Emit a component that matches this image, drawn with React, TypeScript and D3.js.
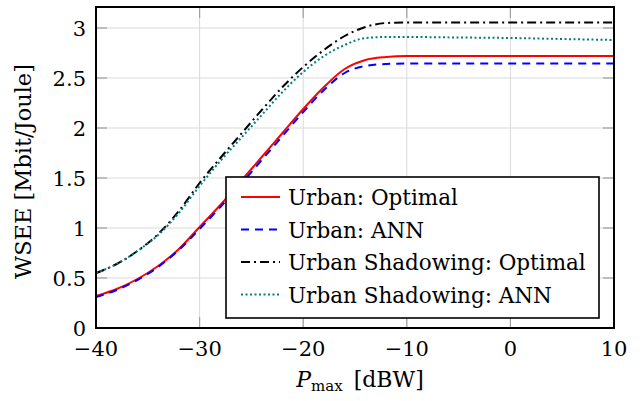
import { useRef, useEffect } from 'react';
import * as d3 from 'd3';

// P_max [dBW]
const pmax = [-40, -38, -36, -34, -32, -30, -28, -26, -24, -22, -20, -18, -16, -14, -12, -10, -5, 0, 5, 10];

const urbanOptimal = [0.32, 0.39, 0.49, 0.62, 0.79, 1.01, 1.23, 1.47, 1.71, 1.95, 2.19, 2.41, 2.59, 2.68, 2.71, 2.72, 2.72, 2.72, 2.72, 2.72];
const urbanAnn = [0.31, 0.38, 0.48, 0.61, 0.78, 0.99, 1.21, 1.44, 1.68, 1.92, 2.16, 2.38, 2.55, 2.62, 2.64, 2.645, 2.645, 2.645, 2.645, 2.645];
const shadowOptimal = [0.55, 0.64, 0.77, 0.94, 1.17, 1.45, 1.7, 1.94, 2.18, 2.41, 2.61, 2.78, 2.92, 3.01, 3.05, 3.055, 3.055, 3.055, 3.055, 3.055];
const shadowAnn = [0.55, 0.64, 0.77, 0.93, 1.15, 1.42, 1.67, 1.9, 2.13, 2.36, 2.56, 2.72, 2.83, 2.9, 2.91, 2.91, 2.905, 2.9, 2.89, 2.88];

const xTicks = [-40, -30, -20, -10, 0, 10];
const yTicks = [0, 0.5, 1, 1.5, 2, 2.5, 3];

const seriesList = [
  { label: 'Urban: Optimal', values: urbanOptimal, color: '#ff0000', dash: '' },
  { label: 'Urban: ANN', values: urbanAnn, color: '#0000ff', dash: '8,6' },
  { label: 'Urban Shadowing: Optimal', values: shadowOptimal, color: '#000000', dash: '9,4,2,4' },
  { label: 'Urban Shadowing: ANN', values: shadowAnn, color: '#008080', dash: '2,2.5' },
];

const W = 640;
const H = 401;
const box = { left: 96, right: 614, top: 7, bottom: 328 };
// only DejaVu Serif renders as a serif face in the sandbox
const serif = 'DejaVu Serif';

const fmt = (v: number) => (v < 0 ? '\u2212' + Math.abs(v) : String(v));

export default function App() {
  const svgRef = useRef<SVGSVGElement>(null);

  useEffect(() => {
    if (!svgRef.current) return;
    const svg = d3.select(svgRef.current);
    svg.selectAll('*').remove();

    const x = d3.scaleLinear().domain([-40, 10]).range([box.left, box.right]);
    const y = d3.scaleLinear().domain([0, 3.21]).range([box.bottom, box.top]);

    // grid
    const grid = svg.append('g').attr('stroke', '#d9d9d9').attr('stroke-width', 1);
    xTicks.forEach((t) => {
      grid.append('line').attr('x1', x(t)).attr('x2', x(t)).attr('y1', box.top).attr('y2', box.bottom);
    });
    yTicks.forEach((t) => {
      grid.append('line').attr('x1', box.left).attr('x2', box.right).attr('y1', y(t)).attr('y2', y(t));
    });

    // inward ticks on all four sides
    const ticks = svg.append('g').attr('stroke', '#a0a0a0').attr('stroke-width', 1.2);
    const tl = 11;
    xTicks.forEach((t) => {
      ticks.append('line').attr('x1', x(t)).attr('x2', x(t)).attr('y1', box.bottom).attr('y2', box.bottom - tl);
      ticks.append('line').attr('x1', x(t)).attr('x2', x(t)).attr('y1', box.top).attr('y2', box.top + tl);
    });
    yTicks.forEach((t) => {
      ticks.append('line').attr('x1', box.left).attr('x2', box.left + tl).attr('y1', y(t)).attr('y2', y(t));
      ticks.append('line').attr('x1', box.right).attr('x2', box.right - tl).attr('y1', y(t)).attr('y2', y(t));
    });

    // curves
    const clip = svg.append('clipPath').attr('id', 'plot-clip');
    clip.append('rect').attr('x', box.left).attr('y', box.top).attr('width', box.right - box.left).attr('height', box.bottom - box.top);
    const plot = svg.append('g').attr('clip-path', 'url(#plot-clip)');
    for (const s of seriesList) {
      const line = d3
        .line<number>()
        .x((_, i) => x(pmax[i]))
        .y((d) => y(d))
        .curve(d3.curveMonotoneX);
      plot
        .append('path')
        .datum(s.values)
        .attr('fill', 'none')
        .attr('stroke', s.color)
        .attr('stroke-width', 2)
        .attr('stroke-dasharray', s.dash)
        .attr('d', line);
    }

    // frame
    svg
      .append('rect')
      .attr('x', box.left)
      .attr('y', box.top)
      .attr('width', box.right - box.left)
      .attr('height', box.bottom - box.top)
      .attr('fill', 'none')
      .attr('stroke', '#000')
      .attr('stroke-width', 2);

    // tick labels
    const labels = svg.append('g').attr('font-family', serif).attr('font-size', 21).attr('fill', '#000');
    xTicks.forEach((t) => {
      labels.append('text').attr('x', x(t)).attr('y', 356).attr('text-anchor', 'middle').text(fmt(t));
    });
    yTicks.forEach((t) => {
      labels.append('text').attr('x', 86).attr('y', y(t) + 7.5).attr('text-anchor', 'end').text(String(t));
    });

    // axis labels
    const xl = svg
      .append('text')
      .attr('x', 360)
      .attr('y', 387)
      .attr('text-anchor', 'middle')
      .attr('font-family', serif)
      .attr('font-size', 22);
    xl.append('tspan').attr('font-style', 'italic').text('P');
    xl.append('tspan').attr('font-size', 15).attr('dy', 4).text('max');
    xl.append('tspan').attr('dy', -4).text('\u2002[dBW]');

    svg
      .append('text')
      .attr('transform', `translate(31,${(box.top + box.bottom) / 2 + 4}) rotate(-90)`)
      .attr('text-anchor', 'middle')
      .attr('font-family', serif)
      .attr('font-size', 22.5)
      .text('WSEE [Mbit/Joule]');

    // legend
    const lg = svg.append('g');
    lg.append('rect')
      .attr('x', 226)
      .attr('y', 177)
      .attr('width', 373)
      .attr('height', 141)
      .attr('fill', '#fff')
      .attr('stroke', '#000')
      .attr('stroke-width', 1.6);
    seriesList.forEach((s, i) => {
      const base = 205 + i * 32.5;
      lg.append('line')
        .attr('x1', 241)
        .attr('x2', 280)
        .attr('y1', base - 8)
        .attr('y2', base - 8)
        .attr('stroke', s.color)
        .attr('stroke-width', 2)
        .attr('stroke-dasharray', s.dash);
      lg.append('text')
        .attr('x', 288)
        .attr('y', base)
        .attr('font-family', serif)
        .attr('font-size', 21.5)
        .text(s.label);
    });
  }, []);

  return (
    <svg
      ref={svgRef}
      width={W}
      height={H}
      viewBox={`0 0 ${W} ${H}`}
      style={{ position: 'absolute', left: 0, top: 0, background: '#fff' }}
    />
  );
}
